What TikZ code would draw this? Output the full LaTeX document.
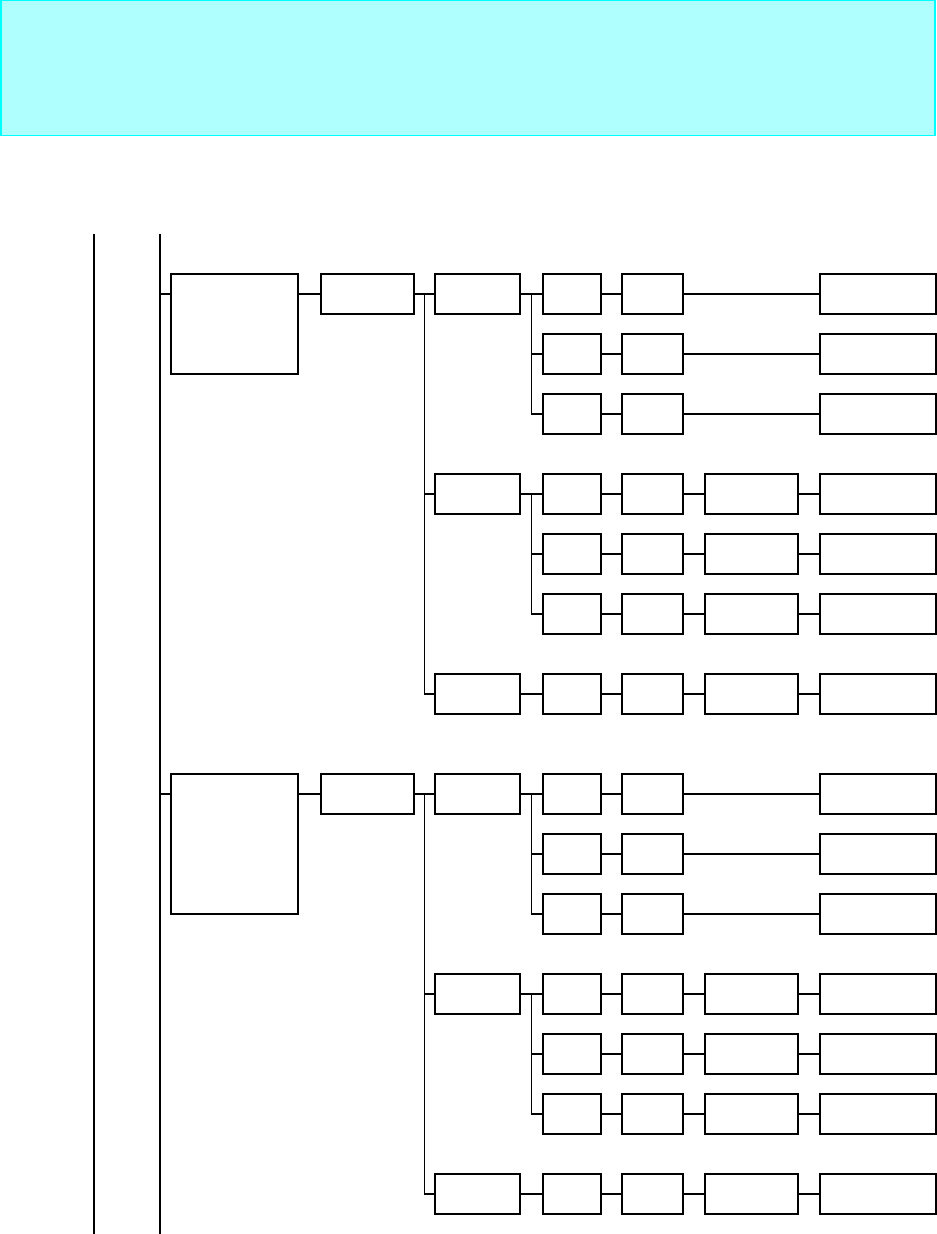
\documentclass[tikz,border=0pt]{standalone}
\usetikzlibrary{calc}
\definecolor{bannerfill}{RGB}{176,255,255}
\definecolor{bannerline}{RGB}{0,255,255}
\tikzset{
  px/.style={x=0.75pt,y=-0.75pt},
  box/.style={draw=black,line width=0.95pt,rectangle,inner sep=0pt,outer sep=0pt},
  conn/.style={draw=black,line width=0.95pt},
  rail/.style={draw=black,line width=0.95pt},
}
% \bx{name}{x1}{y1}{x2}{y2} in pixels
\newcommand{\bx}[5]{\node[box,minimum width={((#4)-(#2))*0.75pt},minimum height={((#5)-(#3))*0.75pt}] (#1) at ({((#2)+(#4))/2},{((#3)+(#5))/2}) {};}
\begin{document}
\begin{tikzpicture}[px]
\useasboundingbox (0,0) rectangle (937,1234);
% banner
\node[draw=bannerline,fill=bannerfill,line width=1.3pt,rectangle,inner sep=0pt,minimum width={934.5*0.75pt},minimum height={135*0.75pt}] (banner) at (468,68) {};
% rails
\coordinate (railAtop) at (94,234);
\coordinate (railAbot) at (94,1234);
\coordinate (railBtop) at (160,234);
\coordinate (railBbot) at (160,1234);
\draw[rail] (railAtop) -- (railAbot);
\draw[rail] (railBtop) -- (railBbot);
\foreach \d/\h/\p in {0/100/a,500/140/b}{
  \bx{\p A}{171}{274+\d}{298}{274+\d+\h}
  \bx{\p B}{321}{274+\d}{414}{314+\d}
  % level 3
  \bx{\p C1}{435}{274+\d}{520}{314+\d}
  \bx{\p C2}{435}{474+\d}{520}{514+\d}
  \bx{\p C3}{435}{674+\d}{520}{714+\d}
  % rows
  \foreach \r/\n in {274/1,334/2,394/3,474/4,534/5,594/6,674/7}{
    \bx{\p D\n}{543}{\r+\d}{601}{\r+40+\d}
    \bx{\p E\n}{622}{\r+\d}{683}{\r+40+\d}
    \bx{\p G\n}{820}{\r+\d}{936}{\r+40+\d}
  }
  \foreach \r/\n in {474/4,534/5,594/6,674/7}{
    \bx{\p F\n}{705}{\r+\d}{798}{\r+40+\d}
  }
  % connectors
  \draw[conn] (\p B.west) -- (\p B.west -| \p A.east);
  \draw[conn] (\p A.west |- \p B.west) -- (\p A.west |- \p B.west -| railBtop);
  \draw[conn] (\p B.east) -- (\p C1.west);
  \coordinate (\p bus1) at ($(\p B.east)!0.5!(\p C1.west)$);
  \draw[conn] (\p bus1) |- (\p C2.west);
  \draw[conn] (\p bus1) |- (\p C3.west);
  \draw[conn] (\p C1.east) -- (\p D1.west);
  \coordinate (\p bus2) at ($(\p C1.east)!0.5!(\p D1.west)$);
  \draw[conn] (\p bus2) |- (\p D2.west);
  \draw[conn] (\p bus2) |- (\p D3.west);
  \draw[conn] (\p C2.east) -- (\p D4.west);
  \coordinate (\p bus3) at ($(\p C2.east)!0.5!(\p D4.west)$);
  \draw[conn] (\p bus3) |- (\p D5.west);
  \draw[conn] (\p bus3) |- (\p D6.west);
  \draw[conn] (\p C3.east) -- (\p D7.west);
  \foreach \n in {1,...,7}{
    \draw[conn] (\p D\n.east) -- (\p E\n.west);
  }
  \foreach \n in {1,2,3}{
    \draw[conn] (\p E\n.east) -- (\p G\n.west);
  }
  \foreach \n in {4,...,7}{
    \draw[conn] (\p E\n.east) -- (\p F\n.west);
    \draw[conn] (\p F\n.east) -- (\p G\n.west);
  }
}
\end{tikzpicture}
\end{document}
